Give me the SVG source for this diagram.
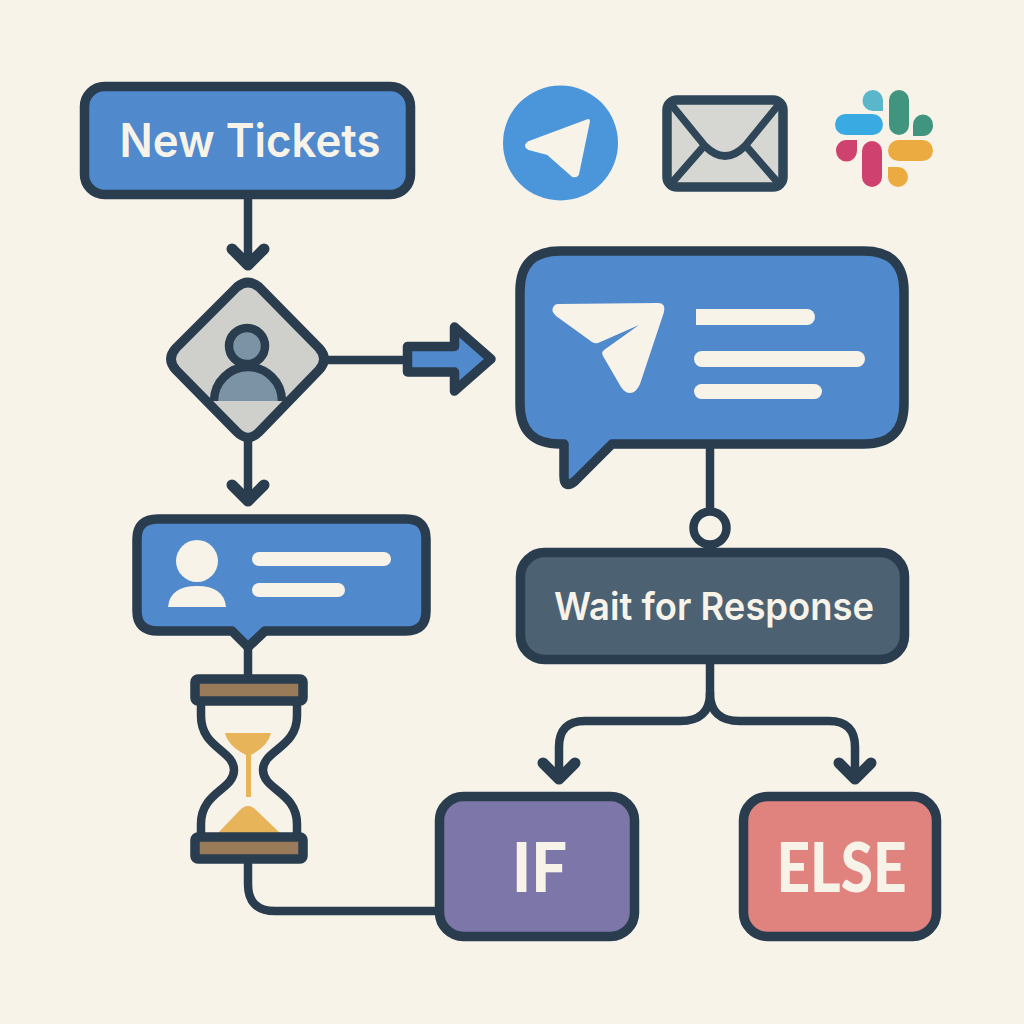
<svg xmlns="http://www.w3.org/2000/svg" width="1024" height="1024" viewBox="0 0 1024 1024">
<style>
.ln{fill:none;stroke:#293d4f;stroke-width:8.500;stroke-linecap:round;stroke-linejoin:round}
.hd{fill:none;stroke:#293d4f;stroke-width:11;stroke-linecap:round;stroke-linejoin:round}
.bx{stroke:#293d4f;stroke-width:9.500;stroke-linejoin:round}
.blue{fill:#5089cc}
.cream{fill:#f7f3e9}
.t{font-family:"Inter","Noto Sans",sans-serif;font-weight:600;fill:#f7f3e9;text-anchor:middle}
.b{font-family:"Lato","Noto Sans",sans-serif;font-weight:900;fill:#f7f3e9;text-anchor:middle}
</style>
<rect width="1024" height="1024" fill="#f7f3e9"/>
<g id="connectors">
<path class="ln" d="M248 194V262"/>
<path class="hd" d="M232 249L248 265L264 249"/>
<path class="ln" d="M248 440V498"/>
<path class="hd" d="M232 485L248 501L264 485"/>
<path class="ln" d="M328 360H405"/>
<path class="ln" d="M248 642V678"/>
<path class="ln" d="M248 860V884Q248 911 275 911H438"/>
<path class="ln" d="M710 446V510"/>
<path class="ln" d="M710 662V693Q710 721 680 721H585Q559 721 559 747V776"/>
<path class="hd" d="M543 763L559 779L575 763"/>
<path class="ln" d="M710 693Q710 721 740 721H829Q855 721 855 747V776"/>
<path class="hd" d="M839 763L855 779L871 763"/>
</g>
<g id="new-tickets">
<rect class="bx blue" x="84.500" y="86.500" width="326" height="108" rx="20"/>
<text class="t" x="250" y="157" font-size="46" textLength="261" lengthAdjust="spacingAndGlyphs">New Tickets</text>
</g>
<g id="telegram-icon">
<circle cx="560.500" cy="143" r="57.500" fill="#4b96da"/>
<path fill="#f7f3e9" stroke="#f7f3e9" stroke-width="4" stroke-linejoin="round" d="M588 121L529 143Q525 146 529 148L548 153L573 175Q576 176 577 174Z"/>
</g>
<g id="email-icon">
<rect x="667" y="100" width="116" height="87" rx="10" fill="#d6d7d2" stroke="#2f4558" stroke-width="9.500"/>
<path fill="none" stroke="#2f4558" stroke-width="7.500" stroke-linejoin="round" d="M670 103L705 146Q725 166 745 146L780 103M670 185L704 146M780 185L746 146"/>
</g>
<g id="slack-icon">
<path d="M883 111H873A10.500 10.500 0 0 1 873 90A10 10.500 0 0 1 883 100Z" fill="#5ab7cb"/>
<rect x="835" y="114" width="48" height="21" rx="10.500" fill="#3aaae2"/>
<rect x="889" y="90" width="20" height="45" rx="10" fill="#41957f"/>
<path d="M913 136V125A10 10.500 0 0 1 933 125A10 10.500 0 0 1 923 136Z" fill="#41957f"/>
<path d="M857 140V151A10.500 10.500 0 0 1 836 151A10.500 10.500 0 0 1 846.500 140Z" fill="#cf426f"/>
<rect x="862" y="141" width="20" height="46" rx="10" fill="#cf426f"/>
<rect x="888" y="140" width="45" height="21" rx="10.500" fill="#ebab40"/>
<path d="M888 167H898A10 10 0 0 1 898 187A10 10 0 0 1 888 177Z" fill="#ebab40"/>
</g>
<g id="decision">
<path class="bx" fill="#cfd0cb" d="M237 287Q248 278 259 287L319 348Q329 359 319 370L259 432Q248 443 237 432L176 370Q166 359 176 348Z"/>
<path fill="#7c93a5" stroke="#293d4f" stroke-width="8.500" d="M214 401A34 34 0 0 1 282 401"/>
<circle cx="247" cy="346" r="18" fill="#7c93a5" stroke="#293d4f" stroke-width="8.500"/>
</g>
<g id="right-arrow">
<path class="bx blue" d="M407.500 346.500H454.500V327L491 359L454.500 391V372H407.500Z"/>
</g>
<g id="telegram-bubble">
<path class="bx blue" d="M560 251H864Q904 251 904 291V404Q904 444 864 444H612L575 481Q564 490 564 476V444H560Q520 444 520 404V291Q520 251 560 251Z"/>
<path fill="#f7f3e9" d="M558 304L658 303Q666 303 664 312L640 384Q636 393 630 393Q625 393 621 387L603 356Q601 352 604 350L639 325L598 343Q595 344 592 342L556 316Q550 310 554 306Q555 304 558 304Z"/>
<path class="cream" d="M696 309H807A8 8 0 0 1 807 325H696Z"/>
<rect class="cream" x="694" y="351" width="171" height="16" rx="8"/>
<rect class="cream" x="694" y="384" width="128" height="15" rx="7.500"/>
</g>
<g id="junction">
<circle cx="710" cy="528" r="16.500" fill="#f7f3e9" stroke="#293d4f" stroke-width="8.500"/>
</g>
<g id="wait">
<rect class="bx" fill="#4c6272" x="520.500" y="552.500" width="384" height="107" rx="24"/>
<text class="t" x="714" y="620" font-size="38" textLength="320" lengthAdjust="spacingAndGlyphs">Wait for Response</text>
</g>
<g id="message">
<path class="bx blue" d="M158 519H406Q426 519 426 539V611Q426 631 406 631H265L248 647L232 631H158Q137 631 137 611V539Q137 519 158 519Z"/>
<circle class="cream" cx="197" cy="561" r="21"/>
<path class="cream" d="M168 607Q170 586 197 586Q224 586 226 607Z"/>
<rect class="cream" x="252" y="552" width="139" height="14" rx="7"/>
<rect class="cream" x="252" y="583" width="93" height="14" rx="7"/>
</g>
<g id="hourglass">
<path class="ln" stroke-linecap="butt" d="M201 703V716C201 748 234 750 234 770C234 790 201 792 201 824V835M297 703V716C297 748 263 750 263 770C263 790 297 792 297 824V835"/>
<path fill="#e8b45a" d="M225 733H271Q268 746 251 755V797H246V755Q228 746 225 733ZM218 833L240 810Q248 802 256 810L280 833Z"/>
<rect class="bx" fill="#9a7b59" x="195" y="679" width="108" height="22" rx="3"/>
<rect class="bx" fill="#9a7b59" x="195" y="837" width="108" height="22" rx="3"/>
</g>
<g id="if">
<rect class="bx" fill="#7d76a8" x="439.500" y="796.500" width="195" height="140" rx="24"/>
<text class="b" x="539.500" y="892" font-size="68" textLength="55" lengthAdjust="spacingAndGlyphs">IF</text>
</g>
<g id="else">
<rect class="bx" fill="#e0827e" x="743.500" y="796.500" width="193" height="140" rx="24"/>
<text class="b" x="841.500" y="892" font-size="68" textLength="130" lengthAdjust="spacingAndGlyphs">ELSE</text>
</g>
</svg>
